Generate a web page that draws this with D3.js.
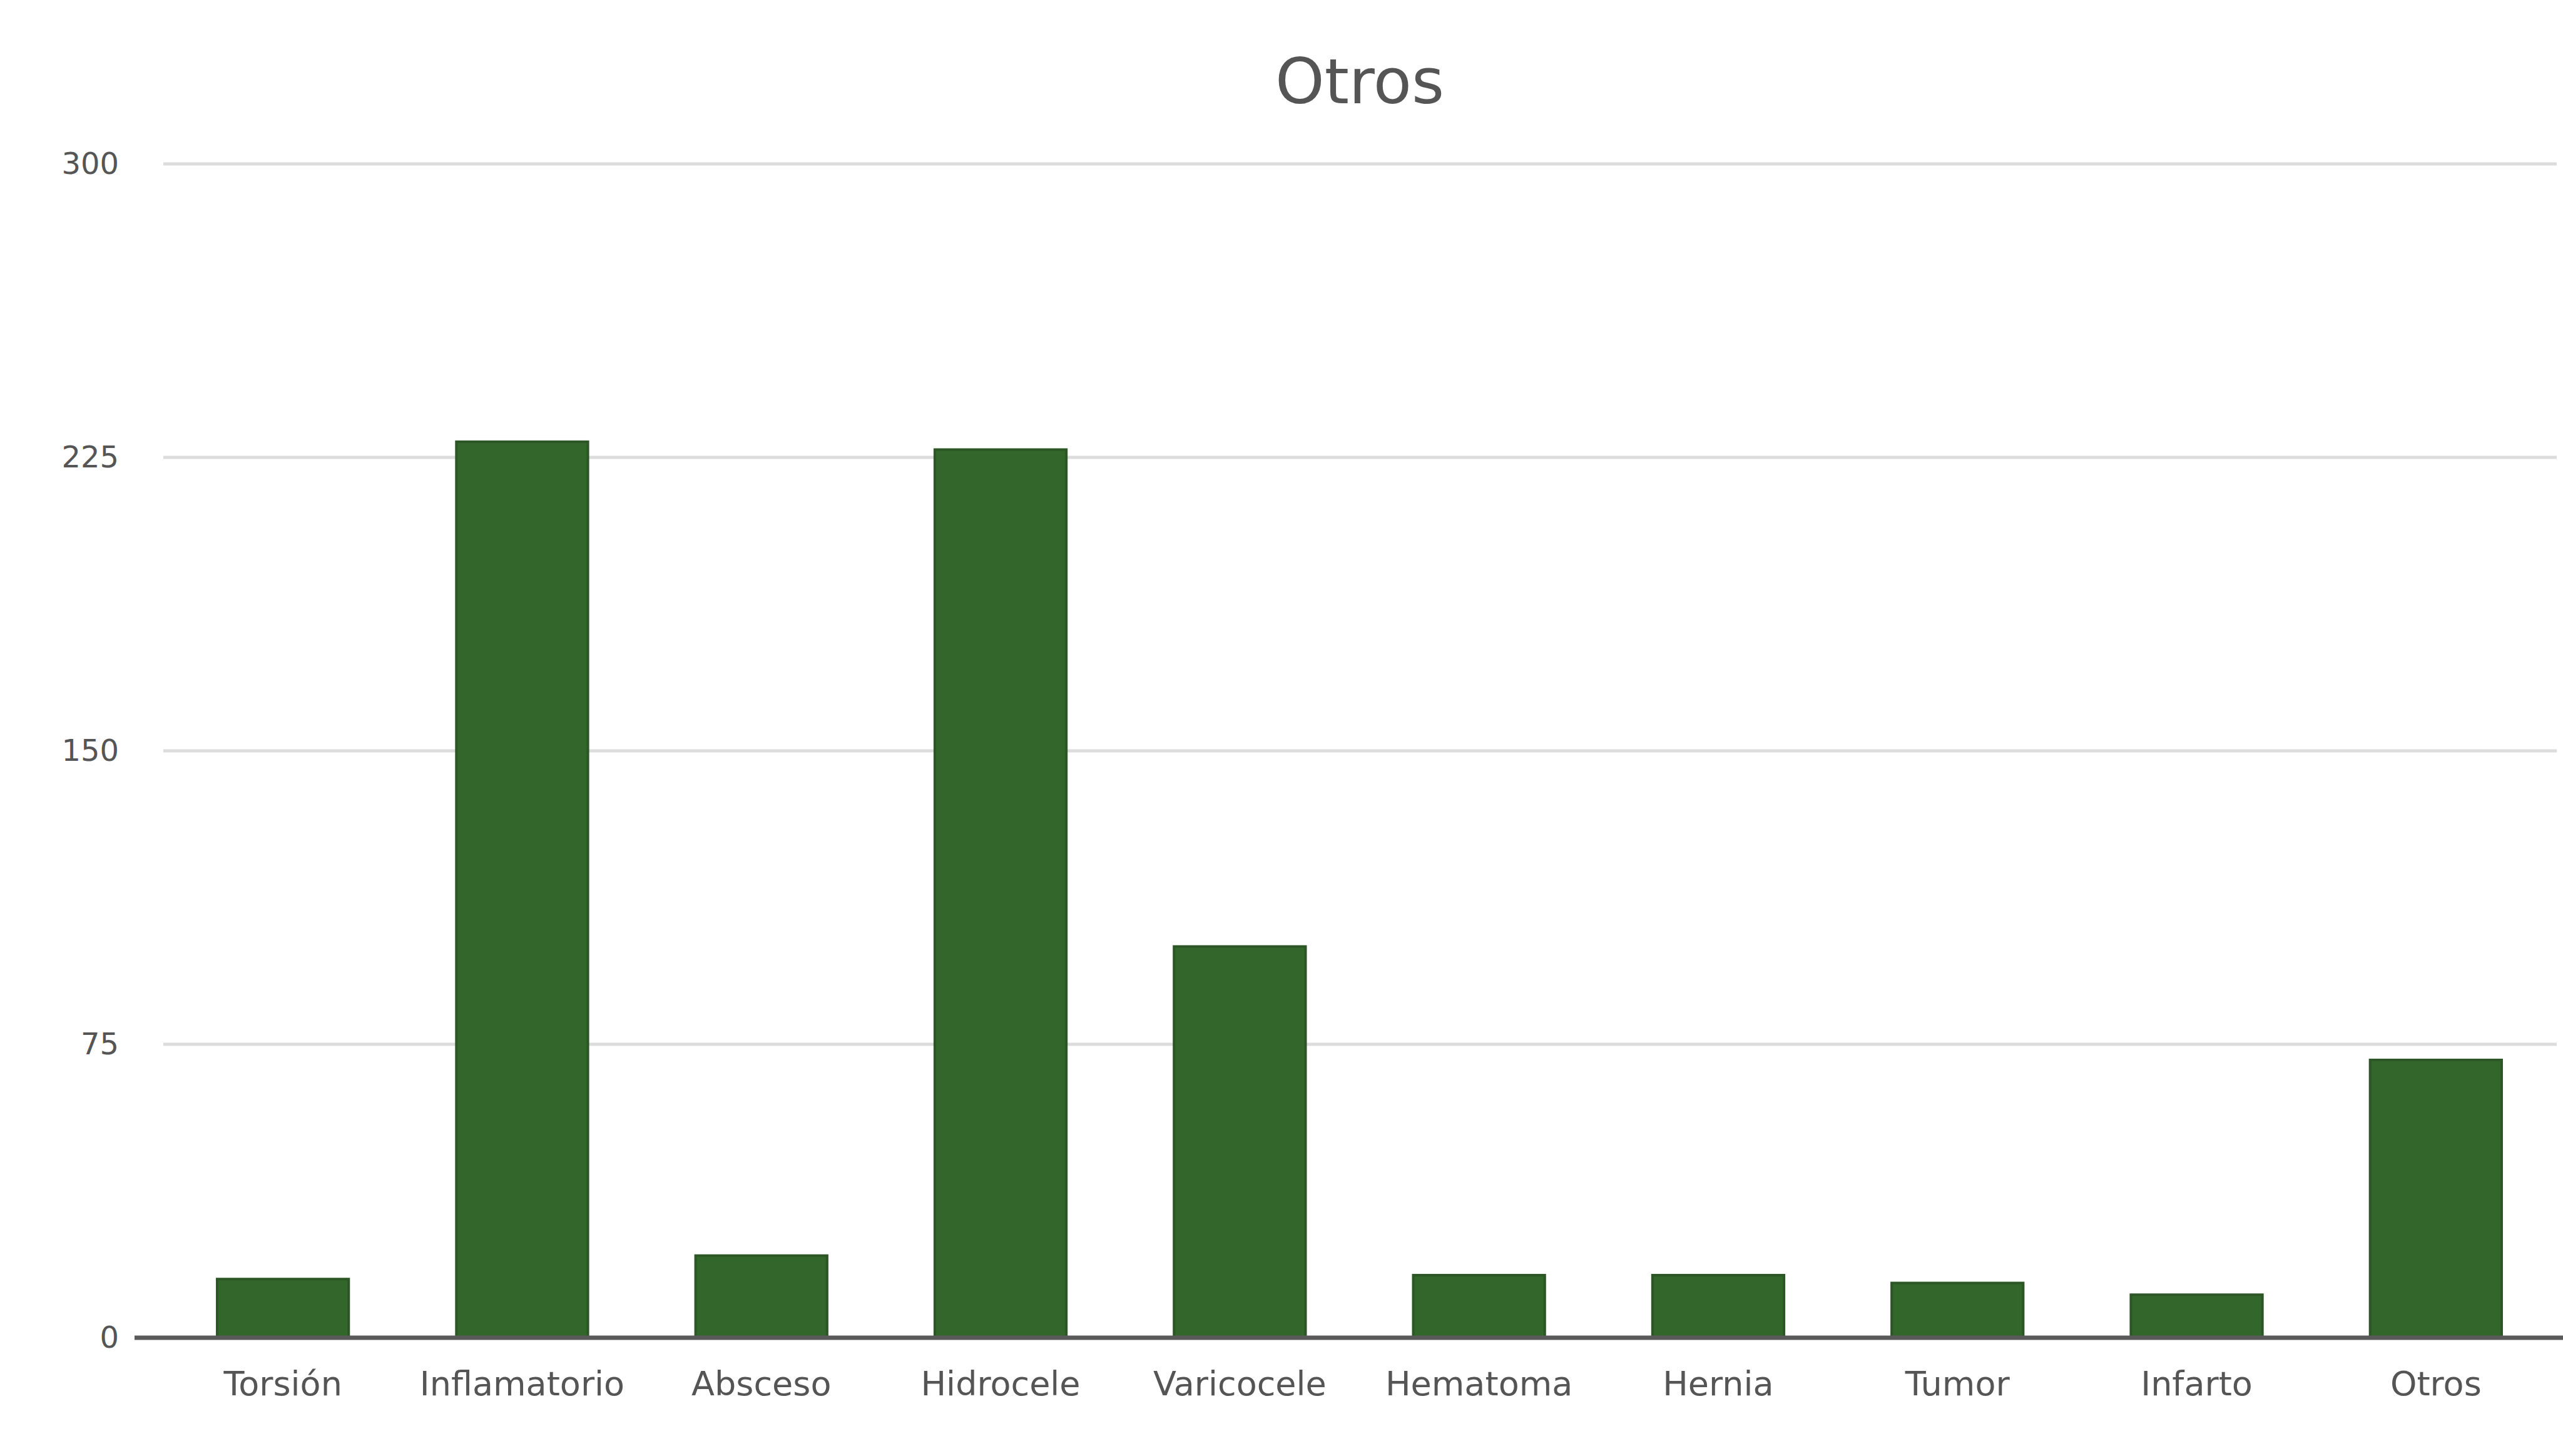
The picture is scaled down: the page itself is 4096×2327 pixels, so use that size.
<!DOCTYPE html>
<html>
<head>
<meta charset="utf-8">
<script src="https://cdn.jsdelivr.net/npm/d3@7"></script>
<style>
  html, body { margin: 0; padding: 0; background: #ffffff; }
  svg { display: block; }
</style>
</head>
<body>
<div id="chart"></div>
<script>
// Diagnósticos: número de casos por categoría
const categories = ["Torsión", "Inflamatorio", "Absceso", "Hidrocele", "Varicocele",
                    "Hematoma", "Hernia", "Tumor", "Infarto", "Otros"];
const values = [15, 229, 21, 227, 100, 16, 16, 14, 11, 71];
const yTicks = [0, 75, 150, 225, 300];
const chartTitle = "Otros";

const W = 4096, H = 2327;
const margin = { top: 262, right: 12, bottom: 189, left: 261 };

const svg = d3.select("#chart").append("svg")
  .attr("width", W).attr("height", H)
  .attr("viewBox", [0, 0, W, H]);

const x = d3.scaleBand()
  .domain(categories)
  .range([margin.left, W - margin.right])
  .paddingInner(0.45)
  .paddingOuter(0.225);

const y = d3.scaleLinear()
  .domain([0, 300])
  .range([H - margin.bottom, margin.top]);

const font = "'DejaVu Sans', 'Liberation Sans', sans-serif";

// horizontal gridlines
svg.append("g")
  .selectAll("line")
  .data(yTicks.filter(d => d > 0))
  .join("line")
  .attr("x1", margin.left)
  .attr("x2", W - 10)
  .attr("y1", d => y(d))
  .attr("y2", d => y(d))
  .attr("stroke", "#dcdcdc")
  .attr("stroke-width", 5);

// y axis labels
const yAxis = d3.axisLeft(y).tickValues(yTicks).tickSize(0).tickPadding(0);
const gy = svg.append("g")
  .attr("transform", `translate(${190},0)`)
  .call(yAxis);
gy.select(".domain").remove();
gy.selectAll("text")
  .attr("font-family", font)
  .attr("font-size", 48)
  .attr("fill", "#555555");

// bars
svg.append("g")
  .selectAll("rect")
  .data(categories.map((c, i) => ({ c, v: values[i] })))
  .join("rect")
  .attr("x", d => x(d.c))
  .attr("width", x.bandwidth())
  .attr("y", d => y(d.v))
  .attr("height", d => y(0) - y(d.v))
  .attr("fill", "#33662b")
  .attr("stroke", "#2c5626")
  .attr("stroke-width", 4);

// baseline + category labels
const xAxis = d3.axisBottom(x).tickSize(0).tickPadding(54);
const gx = svg.append("g")
  .attr("transform", `translate(0,${y(0)})`)
  .call(xAxis);
gx.select(".domain")
  .attr("d", `M${215},0H${W}`)
  .attr("stroke", "#5a5a5a")
  .attr("stroke-width", 7);
gx.selectAll("text")
  .attr("font-family", font)
  .attr("font-size", 54)
  .attr("fill", "#555555");

// title
svg.append("text")
  .attr("x", 2173)
  .attr("y", 165)
  .attr("text-anchor", "middle")
  .attr("font-family", font)
  .attr("font-size", 100)
  .attr("fill", "#555555")
  .text(chartTitle);
</script>
</body>
</html>
